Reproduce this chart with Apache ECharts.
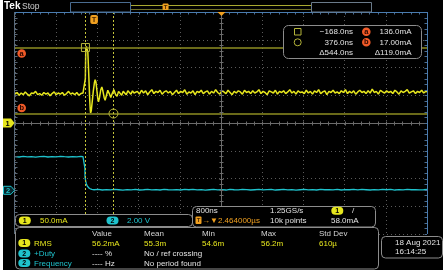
<!DOCTYPE html>
<html><head><meta charset="utf-8">
<script src="https://cdn.jsdelivr.net/npm/echarts@6/dist/echarts.min.js"></script>
<style>html,body{margin:0;padding:0;background:#fff}#c{width:446px;height:274px}</style>
</head><body><div id="c"></div>
<script>
// ---------------- data ----------------
// time in ns relative to trigger, ch1 in mA, ch2 in V
const ch1Step = 40;
const ch1PreStart = -1536;
const ch1Pre = [52, 55, 50, 54, 51, 56, 52, 49, 54, 53,
                57, 51, 53, 50, 55, 52, 54, 49, 53, 56,
                51, 54, 52, 55, 50, 53, 57, 52, 54, 51,
                55, 50, 53, 54];
const ch1Ring = [[-196,54],[-180,56],[-170,80],[-162,132],[-150,138],[-135,136],[-122,128],
                 [-105,90],[-88,48],[-75,24],[-68,18],[-55,22],[-35,40],[-15,58],[5,72],
                 [20,78],[35,74],[55,58],[70,45],[85,38],[105,46],[130,60],[150,65],[170,58],
                 [195,46],[214,41],[240,50],[266,59],[295,53],[324,46],[355,54],[385,60],
                 [415,52],[445,48],[475,57],[505,56],[535,50],[565,57],[595,55],[625,51],
                 [655,58],[685,55],[715,52],[745,58],[775,54],[800,53]];
const ch1PostStart = 840;
const ch1Post = [57, 52, 59, 54, 58, 51, 56, 60, 53, 57, 55, 59, 52, 56, 58, 54, 57, 51, 55, 59,
                 53, 57, 55, 60, 52, 56, 54, 58, 51, 57, 55, 59, 53, 56, 58, 52, 57, 54, 60, 55,
                 52, 58, 56, 53, 59, 55, 51, 57, 54, 58, 56, 52, 59, 55, 57, 53, 58, 54, 56, 60,
                 53, 57, 55, 51, 58, 56, 54, 59, 52, 57, 55, 58, 53, 56, 60, 54, 57, 52, 58, 55,
                 56, 53, 59, 54, 57, 52, 58, 55, 60, 53, 56, 58, 51, 57, 55, 59, 54, 56, 53, 58,
                 55, 60, 53, 57, 54, 58, 52, 56, 59, 55, 57, 53, 58, 54, 61, 55, 57, 52, 59, 56,
                 54, 58, 55, 57, 53, 59, 56, 52, 58, 55, 57, 60, 54, 56, 58, 53, 57, 55, 59, 54, 57, 56];

const ch2Step = 80;
const ch2PreStart = -1536;
const ch2Pre = [2.42, 2.40, 2.44, 2.41, 2.43, 2.39, 2.42, 2.44, 2.40, 2.43, 2.41, 2.45, 2.42, 2.40, 2.43, 2.41, 2.44];
const ch2Edge = [[-216,2.42],[-196,2.41],[-184,2.38],[-179,1.6],[-176,0.95],[-166,0.72],[-150,0.46],
                 [-130,0.29],[-110,0.19],[-90,0.13],[-70,0.09],[-45,0.06],[-20,0.05]];
const ch2PostStart = 0;
const ch2Post = [0.04, 0.06, 0.02, 0.05, 0.03, 0.07, 0.04, 0.01, 0.05, 0.03, 0.06, 0.02, 0.04, 0.07, 0.03, 0.05, 0.02, 0.06, 0.04, 0.03,
                 0.05, 0.02, 0.06, 0.04, 0.07, 0.03, 0.05, 0.01, 0.04, 0.06, 0.03, 0.05, 0.02, 0.07, 0.04, 0.03, 0.06, 0.05, 0.02, 0.04,
                 0.06, 0.03, 0.05, 0.07, 0.02, 0.04, 0.06, 0.03, 0.05, 0.01, 0.04, 0.07, 0.03, 0.05, 0.02, 0.06, 0.04, 0.05, 0.03, 0.06,
                 0.02, 0.05, 0.04, 0.07, 0.03, 0.06, 0.04, 0.02, 0.05, 0.03, 0.06, 0.04, 0.07, 0.02, 0.05, 0.03, 0.06, 0.04, 0.05, 0.03,
                 0.04, 0.06];

const timeRange = [-1536, 6464];     // 800 ns/div, 10 div
const ch1Range = [-200, 200];        // 50 mA/div, 8 div
const ch2Range = [-3.15, 12.85];     // 2 V/div, 8 div
const triggerTime = 0;
const cursorTimes = [-168, 376];
const cursorLevels = [136, 17];

const cursorReadout = [['\u2212168.0ns', '136.0mA'], ['376.0ns', '17.00mA'], ['\u0394544.0ns', '\u0394119.0mA']];
const measHeaders = ['Value', 'Mean', 'Min', 'Max', 'Std Dev'];
const measRms = ['56.2mA', '55.3m', '54.6m', '56.2m', '610\u00b5'];
const measDuty = ['---- %', 'No / ref crossing'];
const measFreq = ['---- Hz', 'No period found'];

// ---------------- build series data ----------------
const ch1Data = [];
ch1Pre.forEach((v, i) => ch1Data.push([ch1PreStart + i * ch1Step, v]));
ch1Ring.forEach(p => ch1Data.push(p));
ch1Post.forEach((v, i) => ch1Data.push([ch1PostStart + i * ch1Step, v]));
const ch2Data = [];
ch2Pre.forEach((v, i) => ch2Data.push([ch2PreStart + i * ch2Step, v]));
ch2Edge.forEach(p => ch2Data.push(p));
ch2Post.forEach((v, i) => ch2Data.push([ch2PostStart + i * ch2Step, v]));

const YEL = '#e6e61e', CYAN = '#1fc2cc', ORANGE = '#f0a020', RED = '#f05a28',
      OLIVE = '#8e8e22', CUR = '#c4c43a', WHITE = '#e2e2e2', GRAY = '#8c8c8c';
const FONT = '"Liberation Sans", Arial, sans-serif';
const GL = 15, GT = 12, GW = 412, GH = 222;

const chart = echarts.init(document.getElementById('c'), null, {renderer: 'canvas'});
const dotted = {show: true, lineStyle: {color: '#5a5a5a', type: [1, 3], width: 1}};
chart.setOption({
  animation: false,
  backgroundColor: '#000',
  grid: {left: GL, top: GT, width: GW, height: GH, show: false},
  xAxis: [
    {type: 'value', min: 0, max: 10, interval: 1, axisLine: {show: false}, axisTick: {show: false}, axisLabel: {show: false}, splitLine: dotted},
    {type: 'value', min: timeRange[0], max: timeRange[1], show: false}
  ],
  yAxis: [
    {type: 'value', min: 0, max: 8, interval: 1, axisLine: {show: false}, axisTick: {show: false}, axisLabel: {show: false}, splitLine: dotted},
    {type: 'value', min: ch1Range[0], max: ch1Range[1], show: false},
    {type: 'value', min: ch2Range[0], max: ch2Range[1], show: false}
  ],
  series: [
    {type: 'line', name: 'CH2', xAxisIndex: 1, yAxisIndex: 2, data: ch2Data, showSymbol: false, z: 3,
     lineStyle: {color: CYAN, width: 1.3}},
    {type: 'line', name: 'CH1', xAxisIndex: 1, yAxisIndex: 1, data: ch1Data, showSymbol: false, z: 4,
     lineStyle: {color: YEL, width: 1.5},
     markLine: {silent: true, symbol: ['none', 'none'], label: {show: false}, animation: false,
       data: [
         {yAxis: cursorLevels[0], lineStyle: {color: OLIVE, width: 1.5, type: 'solid'}},
         {yAxis: cursorLevels[1], lineStyle: {color: OLIVE, width: 1.5, type: 'solid'}},
         {xAxis: cursorTimes[0], lineStyle: {color: CUR, width: 1, type: [2, 2]}},
         {xAxis: cursorTimes[1], lineStyle: {color: CUR, width: 1, type: [2, 2]}}
       ]},
     markPoint: {silent: true, label: {show: false}, animation: false,
       data: [
         {coord: [cursorTimes[0], cursorLevels[0]], symbol: 'rect', symbolSize: 8,
          itemStyle: {color: 'rgba(0,0,0,0)', borderColor: '#b4b43a', borderWidth: 1}},
         {coord: [cursorTimes[1], cursorLevels[1]], symbol: 'circle', symbolSize: 9,
          itemStyle: {color: 'rgba(0,0,0,0)', borderColor: '#b4b43a', borderWidth: 1}}
       ]}
    }
  ]
});

// ---------------- screen decoration ----------------
const px = v => chart.convertToPixel({xAxisIndex: 1}, v);
const py1 = v => chart.convertToPixel({yAxisIndex: 1}, v);
const py2 = v => chart.convertToPixel({yAxisIndex: 2}, v);
const G = [];
function line(x1, y1, x2, y2, color, w, z) {
  G.push({type: 'line', z: z || 50, silent: true, shape: {x1, y1, x2, y2}, style: {stroke: color, lineWidth: w || 1}});
}
function box(x, y, w, h, r, stroke, fill, z) {
  G.push({type: 'rect', z: z || 110, silent: true, shape: {x, y, width: w, height: h, r: r || 0},
          style: {stroke: stroke || 'none', fill: fill || 'none', lineWidth: 1}});
}
function txt(s, x, y, color, size, align, bold, z) {
  const a = align || 'left';
  G.push({type: 'text', z: z || 120, silent: true,
          style: {text: s, x, y, fill: color, font: (bold ? 'bold ' : '') + (size || 8) + 'px ' + FONT,
                  align: a, verticalAlign: 'middle', textAlign: a, textVerticalAlign: 'middle'}});
}
function pill(cx, cy, label, color, filled) {
  box(cx - 6, cy - 4, 12, 8, 4, filled ? 'none' : color, filled ? color : '#000', 115);
  txt(label, cx, cy + 0.5, filled ? '#000' : color, 7, 'center', true, 121);
}
function badge(cx, cy, label) {
  G.push({type: 'circle', z: 115, silent: true, shape: {cx, cy, r: 4.3}, style: {fill: RED}});
  txt(label, cx, cy, '#2a0800', 7.5, 'center', true, 121);
}

// centre cross lines with minor ticks, border ticks
const cx0 = GL + GW / 2, cy0 = GT + GH / 2;
line(cx0 + 0.5, GT, cx0 + 0.5, GT + GH, '#6c6c6c', 1, 5);
line(GL, cy0 + 0.5, GL + GW, cy0 + 0.5, '#6c6c6c', 1, 5);
for (let k = 0; k <= 50; k++) {
  const x = Math.round(GL + k * GW / 50) + 0.5;
  line(x, cy0 - 1.5, x, cy0 + 2.5, '#6c6c6c', 1, 5);
  line(x, GT, x, GT + 2.5, '#4a6c90', 1, 5);
}
for (let k = 0; k <= 40; k++) {
  const y = Math.round(GT + k * GH / 40) + 0.5;
  line(cx0 - 1.5, y, cx0 + 2.5, y, '#6c6c6c', 1, 5);
  line(GL, y, GL + 2.5, y, '#5a6878', 1, 5);
  line(GL + GW - 2.5, y, GL + GW, y, '#4a6c90', 1, 5);
}
// graticule border
line(GL, GT + 0.5, GL + GW + 0.5, GT + 0.5, '#4a7cb0', 1, 6);
line(GL + GW + 0.5, GT, GL + GW + 0.5, GT + GH, '#4a7cb0', 1, 6);
line(GL - 0.5, GT, GL - 0.5, GT + GH, '#5a6a7a', 1, 6);

// top bar
txt('Tek', 4, 6.5, '#ffffff', 10, 'left', true);
txt('Stop', 22, 6.5, '#d0d0d0', 8.5);
box(70.5, 2.5, 60, 9.5, 0, '#4a6c90', 'none', 60);
line(131, 5.5, 311, 5.5, '#a8a830', 1, 60);
line(131, 9.5, 311, 9.5, '#6e6e28', 1, 60);
box(311.5, 2.5, 60, 9.5, 0, '#6a7a8a', 'none', 60);
const recX = 131 + (triggerTime - timeRange[0]) / (timeRange[1] - timeRange[0]) * 180;
box(recX - 3, 3.5, 6, 6.5, 1, 'none', ORANGE, 115);
txt('T', recX, 7, '#4a2800', 6, 'center', true, 121);
// expansion point marker
G.push({type: 'polygon', z: 60, silent: true, shape: {points: [[cx0 - 3.5, GT], [cx0 + 4.5, GT], [cx0 + 0.5, GT + 4]]}, style: {fill: ORANGE}});

// trigger marker
const tx = px(triggerTime);
box(tx - 3.8, 15, 7.6, 9, 2, 'none', ORANGE, 115);
txt('T', tx, 19.8, '#4a2800', 7.5, 'center', true, 121);

// cursor badges
badge(21.7, py1(cursorLevels[0]) + 6, 'a');
badge(21.7, py1(cursorLevels[1]) - 5.5, 'b');

// channel ground markers
const y1g = py1(0), y2g = py2(0);
G.push({type: 'polygon', z: 115, silent: true, shape: {points: [[3, y1g - 4.5], [11, y1g - 4.5], [14.5, y1g], [11, y1g + 4.5], [3, y1g + 4.5]]}, style: {fill: YEL}});
txt('1', 7.5, y1g + 0.5, '#000', 7.5, 'center', true, 121);
G.push({type: 'polygon', z: 115, silent: true, shape: {points: [[3.5, y2g - 4], [11, y2g - 4], [14.5, y2g], [11, y2g + 4], [3.5, y2g + 4]]}, style: {fill: '#06262c', stroke: CYAN, lineWidth: 1}});
txt('2', 8, y2g + 0.5, CYAN, 7.5, 'center', true, 121);

// cursor readout box
box(283.5, 25.5, 138, 33, 5, GRAY, '#000', 110);
box(294.5, 28.5, 6.5, 6.5, 0, '#b4b43a', 'none', 115);
G.push({type: 'circle', z: 115, silent: true, shape: {cx: 297.7, cy: 42.3, r: 3.5}, style: {stroke: '#b4b43a', fill: 'none'}});
const rowY = [31.7, 42.3, 52.7];
cursorReadout.forEach((r, i) => {
  txt(r[0], 353, rowY[i], WHITE, 8, 'right');
  txt(r[1], 411.5, rowY[i], WHITE, 8, 'right');
});
badge(366.3, rowY[0], 'a');
badge(366.3, rowY[1], 'b');

// bottom readouts
box(15.5, 214.5, 177, 12, 4, GRAY, '#000', 110);
box(192.5, 206.5, 183, 20.5, 4, GRAY, '#000', 111);
box(15.5, 227.5, 363, 41.5, 4, GRAY, '#000', 112);
box(381.5, 236.5, 61, 21.5, 4, GRAY, '#000', 110);

pill(24.8, 220.5, '1', YEL, true);
txt('50.0mA', 40, 220.8, YEL, 8);
pill(112.5, 220.5, '2', CYAN, true);
txt('2.00 V', 127, 220.8, CYAN, 8);

txt('800ns', 196, 211, WHITE, 8);
box(195.5, 216.5, 6, 7.5, 1, 'none', ORANGE, 115);
txt('T', 198.5, 220.5, '#4a2800', 6, 'center', true, 121);
txt('\u2192\u25bc2.464000\u00b5s', 202, 220.8, ORANGE, 8);
txt('1.25GS/s', 270, 211, WHITE, 8);
txt('10k points', 270, 220.8, WHITE, 8);
pill(337.3, 210.8, '1', YEL, true);
txt('/', 352, 211, WHITE, 8);
txt('58.0mA', 331, 220.8, WHITE, 8);

const colX = [92, 144, 202, 261, 319];
measHeaders.forEach((h, i) => txt(h, colX[i], 233.5, '#d4d4d4', 8));
pill(24.3, 243, '1', YEL, true);
txt('RMS', 34, 243.3, YEL, 8);
measRms.forEach((v, i) => txt(v, colX[i], 243.3, YEL, 8));
pill(24.3, 253.5, '2', CYAN, true);
txt('+Duty', 34, 253.8, CYAN, 8);
txt(measDuty[0], colX[0], 253.8, WHITE, 8);
txt(measDuty[1], colX[1], 253.8, WHITE, 8);
pill(24.3, 263, '2', CYAN, true);
txt('Frequency', 34, 263.3, CYAN, 8);
txt(measFreq[0], colX[0], 263.3, WHITE, 8);
txt(measFreq[1], colX[1], 263.3, WHITE, 8);

txt('18 Aug 2021', 395, 243, WHITE, 8);
txt('16:14:25', 395, 252, WHITE, 8);

// white margins of the screenshot
box(0, 0, 3, 274, 0, 'none', '#ffffff', 200);
box(443, 0, 3, 274, 0, 'none', '#ffffff', 200);
box(0, 270, 446, 4, 0, 'none', '#ffffff', 200);

chart.setOption({graphic: {elements: G}});
</script></body></html>
